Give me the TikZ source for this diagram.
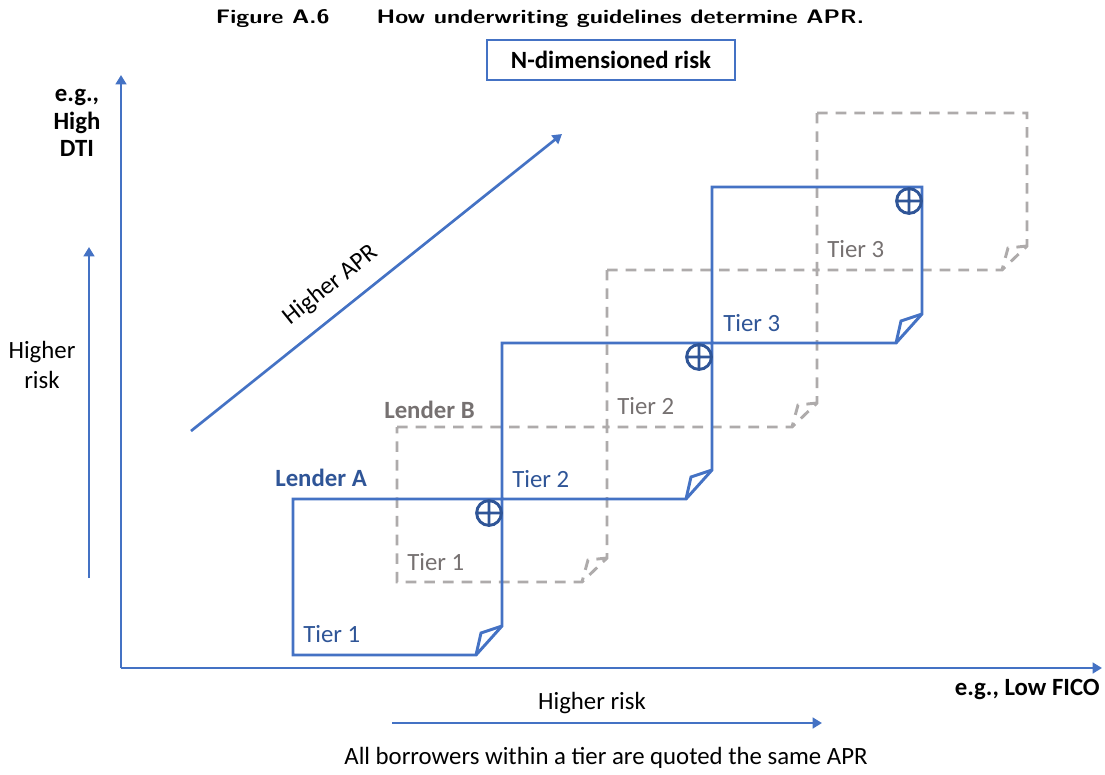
\documentclass[tikz,border=0pt]{standalone}
\usepackage{graphicx}
\usepackage{fontspec}
\setmainfont{Carlito}
\usetikzlibrary{arrows.meta}
\definecolor{lineblue}{HTML}{4472C4}
\definecolor{textblue}{HTML}{2F5597}
\definecolor{dashgray}{HTML}{AEABAB}
\definecolor{textgray}{HTML}{767171}
\newcommand{\boxA}[4]{% L T R B
  \draw[boxAline] ({#1},{#2}) -- ({#3},{#2}) -- ({#3},{#4-29}) -- ({#3-26},{#4}) -- ({#1},{#4}) -- cycle;
  \draw[boxAline] ({#3},{#4-29}) -- ({#3-21},{#4-22}) -- ({#3-26},{#4});
  \draw[plusmark] ({#3-13},{#2+14}) circle[radius=9.3pt]
    ({#3-26},{#2+14}) -- ({#3},{#2+14}) ({#3-13},{#2+1}) -- ({#3-13},{#2+27});
}
\newcommand{\boxB}[4]{% L T R B
  \draw[boxBline] ({#1},{#2}) -- ({#3},{#2}) -- ({#3},{#4-24}) -- ({#3-25},{#4}) -- ({#1},{#4}) -- cycle;
  \draw[boxBline] ({#3},{#4-24}) -- ({#3-19},{#4-22}) -- ({#3-25},{#4});
}
\begin{document}
\begin{tikzpicture}[x=0.75pt,y=-0.75pt,
  txt/.style={font=\fontsize{18.6}{22}\selectfont, inner sep=0pt},
  btxt/.style={font=\fontsize{18.6}{22}\selectfont\bfseries, inner sep=0pt},
  axis/.style={draw=lineblue, line width=2pt, -{Triangle[length=7pt,width=8pt]}},
  boxAline/.style={draw=lineblue, line width=2.2pt, line join=miter},
  boxBline/.style={draw=dashgray, line width=2.2pt, dash pattern=on 8pt off 6pt},
  plusmark/.style={draw=textblue, line width=2.2pt},
]
\useasboundingbox (0,0) rectangle (1105,774);

% title
\node[inner sep=0pt, anchor=base] (title) at (540,24)
  {\resizebox{486pt}{10.5pt}{\fontsize{15}{18}\sffamily\bfseries Figure A.6\hspace{2em}How underwriting guidelines determine APR.}};
\node[btxt, draw=lineblue, line width=1.2pt, minimum width=248*0.75pt, minimum height=40*0.75pt] (ndim) at (611,60) {N-dimensioned risk};

% axes
\coordinate (O) at (121,668);
\coordinate (ytip) at (121,75);
\coordinate (xtip) at (1102,668);
\draw[axis] (O) -- (ytip);
\draw[axis] (O) -- (xtip);

% boxes lender B (dashed) first
\boxB{397}{427}{607}{582}
\boxB{607}{270}{817}{427}
\boxB{817}{113}{1027}{270}
% boxes lender A
\boxA{293}{499}{502}{655}
\boxA{502}{343}{712}{499}
\boxA{712}{187}{922}{343}

% tier labels
\node[txt, text=textblue, anchor=west] (a1) at (303,634) {Tier 1};
\node[txt, text=textblue, anchor=west] (a2) at (512,479) {Tier 2};
\node[txt, text=textblue, anchor=west] (a3) at (723,323) {Tier 3};
\node[txt, text=textgray, anchor=west] (b1) at (407,562) {Tier 1};
\node[txt, text=textgray, anchor=west] (b2) at (617,406) {Tier 2};
\node[txt, text=textgray, anchor=west] (b3) at (827,249) {Tier 3};
\node[btxt, text=textblue, anchor=west] (lenderA) at (275,478) {Lender A};
\node[btxt, text=textgray, anchor=west] (lenderB) at (384,410) {Lender B};

% axis labels
\node[btxt, align=center, font=\fontsize{18.6}{20.6}\selectfont\bfseries] (ylab) at (77,123) {e.g.,\\High\\DTI};
\node[btxt, anchor=east] (xlab) at (1100,689) {e.g., Low FICO};
\node[txt, align=center, font=\fontsize{18.6}{22.5}\selectfont] (yrisk) at (42,365) {Higher\\risk};
\node[txt] (xrisk) at (592,703) {Higher risk};
\node[txt] (note) at (606,758) {All borrowers within a tier are quoted the same APR};

% auxiliary arrows
\coordinate (v0) at (89,578);
\coordinate (v1) at (89,247);
\draw[axis] (v0) -- (v1);
\coordinate (h0) at (392,723);
\coordinate (h1) at (822,723);
\draw[axis] (h0) -- (h1);
\coordinate (d0) at (191,431);
\coordinate (d1) at (562,134);
\draw[axis] (d0) -- (d1);
\node[txt, rotate=38.7] (apr) at (331,285) {Higher APR};
\end{tikzpicture}
\end{document}
